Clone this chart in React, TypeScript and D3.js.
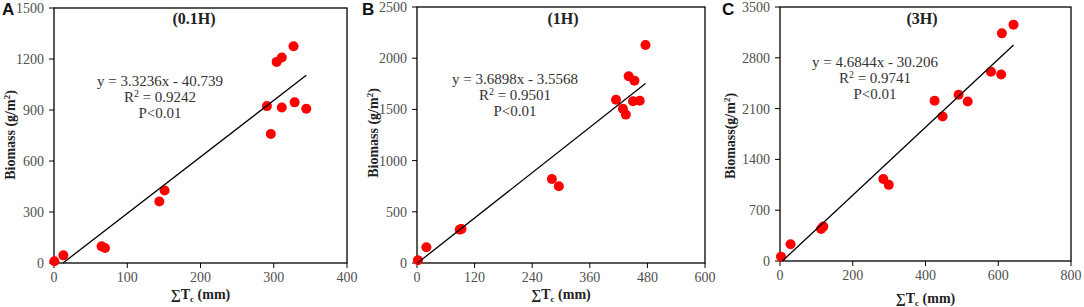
import React from "react";
import * as d3 from "d3";

// ---------- data ----------
const aTc = [0.5, 12.8, 65, 69.6, 143.8, 151, 290.7, 296, 304, 311, 311, 327, 328.5, 344.4];
const aBio = [10, 45, 98, 88, 362, 426, 923, 759, 1183, 1209, 915, 1275, 945, 907];
const bTc = [2, 19.5, 89, 92.7, 281, 295.5, 414.6, 429, 435, 441, 453, 450, 464, 476];
const bBio = [26, 153, 326, 332, 820, 749, 1595, 1507, 1449, 1823, 1781, 1579, 1585, 2129];
const cTc = [2.75, 29, 113, 119, 284, 299, 425, 447, 491, 516, 580, 608, 610, 642];
const cBio = [60, 230, 442, 474, 1131, 1049, 2208, 1992, 2291, 2199, 2608, 2571, 3137, 3257];

const aXTicks = [0, 100, 200, 300, 400];
const aYTicks = [0, 300, 600, 900, 1200, 1500];
const bXTicks = [0, 120, 240, 360, 480, 600];
const bYTicks = [0, 500, 1000, 1500, 2000, 2500];
const cXTicks = [0, 200, 400, 600, 800];
const cYTicks = [0, 700, 1400, 2100, 2800, 3500];

const slopes = [3.3236, 3.6898, 4.6844];
const intercepts = [-40.739, -3.5568, -30.206];
const eqTexts = ["y = 3.3236x - 40.739", "y = 3.6898x - 3.5568", "y = 4.6844x - 30.206"];
const r2Texts = ["0.9242", "0.9501", "0.9741"];
const titles = ["(0.1H)", "(1H)", "(3H)"];
const letters = ["A", "B", "C"];
const yLabels = ["Biomass (g/m", "Biomass (g/m", "Biomass(g/m"];

// ---------- layout ----------
const panels = [
  { x: aTc, y: aBio, xt: aXTicks, yt: aYTicks, L: 54, R: 347, T: 8, B: 263, eqX: 160, eqY: 86, titleX: 194, ylX: 15, ylY: 135, letterX: 2, xTitleY: 299 },
  { x: bTc, y: bBio, xt: bXTicks, yt: bYTicks, L: 417, R: 705, T: 7, B: 263, eqX: 515, eqY: 84, titleX: 563, ylX: 378, ylY: 133, letterX: 362, xTitleY: 299 },
  { x: cTc, y: cBio, xt: cXTicks, yt: cYTicks, L: 780, R: 1071, T: 7, B: 261, eqX: 875, eqY: 67, titleX: 922, ylX: 735, ylY: 136, letterX: 722, xTitleY: 303 },
];

const serif = "'Liberation Serif', 'Times New Roman', serif";
const sans = "'Liberation Sans', Arial, sans-serif";

function Panel({ p, i }: { p: any; i: number }) {
  const xs = d3.scaleLinear().domain([p.xt[0], p.xt[p.xt.length - 1]]).range([p.L, p.R]);
  const ys = d3.scaleLinear().domain([p.yt[0], p.yt[p.yt.length - 1]]).range([p.B, p.T]);
  const x0 = -intercepts[i] / slopes[i];
  const x1 = d3.max(p.x as number[]) as number;
  const line = d3.line<number>().x((d) => xs(d)).y((d) => ys(slopes[i] * d + intercepts[i]));
  return (
    <g>
      <rect x={p.L} y={p.T} width={p.R - p.L} height={p.B - p.T} fill="white" stroke="#000" strokeWidth={1.3} />
      {p.yt.map((t: number) => (
        <g key={"y" + t}>
          <line x1={p.L - 5} x2={p.L} y1={ys(t)} y2={ys(t)} stroke="#000" strokeWidth={1} />
          <text x={p.L - 10} y={ys(t)} dy="0.35em" textAnchor="end" fontFamily={serif} fontSize={14} fill="#505050">{t}</text>
        </g>
      ))}
      {p.xt.map((t: number) => (
        <g key={"x" + t}>
          <line x1={xs(t)} x2={xs(t)} y1={p.B} y2={p.B + 5} stroke="#000" strokeWidth={1} />
          <text x={xs(t)} y={p.B + 19} textAnchor="middle" fontFamily={serif} fontSize={14} fill="#505050">{t}</text>
        </g>
      ))}
      {(p.x as number[]).map((v, j) => (
        <circle key={j} cx={xs(v)} cy={ys(p.y[j])} r={5} fill="#ff0000" />
      ))}
      <path d={line([x0, x1]) as string} stroke="#000" strokeWidth={1.3} fill="none" />
      <text x={p.eqX} y={p.eqY} textAnchor="middle" fontFamily={serif} fontSize={15} fill="#333">{eqTexts[i]}</text>
      <text x={p.eqX} y={p.eqY + 16} textAnchor="middle" fontFamily={serif} fontSize={15} fill="#333">
        R<tspan dy={-5} fontSize={10}>2</tspan><tspan dy={5}> = {r2Texts[i]}</tspan>
      </text>
      <text x={p.eqX} y={p.eqY + 32} textAnchor="middle" fontFamily={serif} fontSize={15} fill="#333">P&lt;0.01</text>
      <text x={p.titleX} y={24} textAnchor="middle" fontFamily={serif} fontWeight="bold" fontSize={16} fill="#222">{titles[i]}</text>
      <text x={p.letterX} y={15} fontFamily={sans} fontWeight="bold" fontSize={17} fill="#111">{letters[i]}</text>
      <text transform={`translate(${p.ylX},${p.ylY}) rotate(-90)`} textAnchor="middle" fontFamily={serif} fontWeight="bold" fontSize={14} fill="#222">
        {yLabels[i]}<tspan dy={-5} fontSize={9}>2</tspan><tspan dy={5}>)</tspan>
      </text>
      <text x={(p.L + p.R) / 2} y={p.xTitleY} textAnchor="middle" fontFamily={serif} fontWeight="bold" fontSize={14} fill="#222">
        ∑T<tspan dy={3} fontSize={9}>c</tspan><tspan dy={-3}> (mm)</tspan>
      </text>
    </g>
  );
}

export default function App() {
  return (
    <svg width={1084} height={307} style={{ position: "absolute", left: 0, top: 0, background: "white" }}>
      <rect x={0} y={0} width={1084} height={307} fill="white" />
      {panels.map((p, i) => (
        <Panel key={i} p={p} i={i} />
      ))}
    </svg>
  );
}
